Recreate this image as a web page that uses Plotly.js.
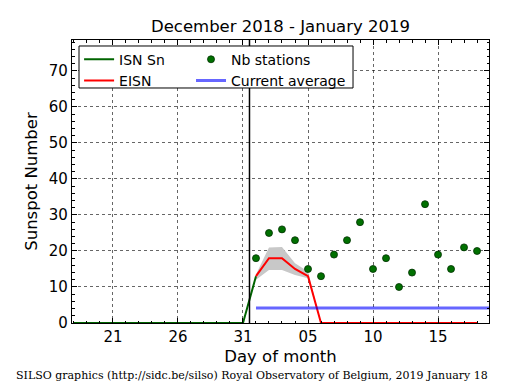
<!DOCTYPE html>
<html>
<head>
<meta charset="utf-8">
<script src="https://cdn.plot.ly/plotly-3.0.1.min.js"></script>
<style>html,body{margin:0;padding:0;background:#fff}#chart{width:515px;height:390px}</style>
</head>
<body>
<div id="chart"></div>
<script>
// ISN Sn (daily sunspot number, final values)
const isnDates = ['2018-12-18','2018-12-19','2018-12-20','2018-12-21','2018-12-22','2018-12-23','2018-12-24','2018-12-25','2018-12-26','2018-12-27','2018-12-28','2018-12-29','2018-12-30','2018-12-31','2019-01-01'];
const isnValues = [0,0,0,0,0,0,0,0,0,0,0,0,0,0,13];

// EISN (estimated international sunspot number)
const eisnDates = ['2019-01-01','2019-01-02','2019-01-03','2019-01-04','2019-01-05','2019-01-06','2019-01-07','2019-01-08','2019-01-09','2019-01-10','2019-01-11','2019-01-12','2019-01-13','2019-01-14','2019-01-15','2019-01-16','2019-01-17','2019-01-18'];
const eisnValues = [13,18,18,15,13,0,0,0,0,0,0,0,0,0,0,0,0,0];

// EISN uncertainty band
const bandDates = ['2019-01-01','2019-01-02','2019-01-03','2019-01-04','2019-01-05','2019-01-06'];
const bandLower = [12,14.7,14.7,13.3,12.4,0];
const bandUpper = [13.5,21,21.1,16.6,14.3,0];

// Number of stations
const stationDates = ['2019-01-01','2019-01-02','2019-01-03','2019-01-04','2019-01-05','2019-01-06','2019-01-07','2019-01-08','2019-01-09','2019-01-10','2019-01-11','2019-01-12','2019-01-13','2019-01-14','2019-01-15','2019-01-16','2019-01-17','2019-01-18'];
const stationValues = [18,25,26,23,15,13,19,23,28,15,18,10,14,33,19,15,21,20];

// Current average
const avgDates = ['2019-01-01','2019-01-19'];
const avgValues = [4.2,4.2];

// Marker line (current time)
const nowDate = '2018-12-31 12:00';

const xRange = ['2018-12-17 20:24','2019-01-18 22:05'];
const yRange = [0,78.6];

const font = 'DejaVu Sans, sans-serif';

const traces = [
  {x: bandDates, y: bandLower, mode:'lines', line:{width:0,color:'#c8c8c8'}, showlegend:false, hoverinfo:'skip'},
  {x: bandDates, y: bandUpper, mode:'lines', line:{width:0,color:'#c8c8c8'}, fill:'tonexty', fillcolor:'#c8c8c8', showlegend:false, hoverinfo:'skip'},
  {x: isnDates, y: isnValues, mode:'lines', name:'ISN Sn', line:{color:'#006400', width:2}, legend:'legend', legendrank:1},
  {x: eisnDates, y: eisnValues, mode:'lines', name:'EISN', line:{color:'#ff0000', width:2}, legend:'legend', legendrank:2},
  {x: avgDates, y: avgValues, mode:'lines', name:'Current average', line:{color:'rgba(0,0,255,0.6)', width:3}, legend:'legend2', legendrank:2},
  {x: stationDates, y: stationValues, mode:'markers', name:'Nb stations', marker:{color:'#007000', size:7, line:{color:'#003000', width:0.8}}, legend:'legend2', legendrank:1}
];

const legendCommon = {
  orientation:'v', yanchor:'top', xanchor:'left',
  bgcolor:'rgba(0,0,0,0)', borderwidth:0, traceorder:'normal', tracegroupgap:0, itemwidth:30,
  font:{family:font, size:14, color:'#000'}
};

const layout = {
  width:515, height:390,
  margin:{l:72, r:26, t:40, b:67},
  paper_bgcolor:'#fff', plot_bgcolor:'#fff',
  font:{family:font, color:'#000', size:14},
  title:{text:'December 2018 - January 2019', font:{family:font, size:16.5, color:'#000'}, x:0.5, xref:'paper', y:0.932, yanchor:'middle'},
  xaxis:{
    type:'date', range:xRange, tick0:'2018-12-21', dtick:5*86400000, tickformat:'%d',
    ticks:'inside', ticklen:5, tickwidth:1, tickcolor:'#000', mirror:'allticks',
    showline:true, linecolor:'#000', linewidth:1.2,
    showgrid:true, gridcolor:'#000', griddash:'dot', gridwidth:0.6,
    zeroline:false,
    tickfont:{family:font, size:15, color:'#000'},
    minor:{dtick:86400000, ticks:'inside', ticklen:2.5, tickcolor:'#000', showgrid:false},
    title:{text:'Day of month', font:{family:font, size:16.5, color:'#000'}, standoff:5}
  },
  yaxis:{
    range:yRange, tick0:0, dtick:10,
    ticks:'inside', ticklen:5, tickwidth:1, tickcolor:'#000', mirror:'allticks',
    showline:true, linecolor:'#000', linewidth:1.2,
    showgrid:true, gridcolor:'#000', griddash:'dot', gridwidth:0.6,
    zeroline:false,
    tickfont:{family:font, size:15, color:'#000'},
    minor:{dtick:2, ticks:'inside', ticklen:2.5, tickcolor:'#000', showgrid:false},
    title:{text:'Sunspot Number', font:{family:font, size:16.5, color:'#000'}, standoff:7}
  },
  legend: Object.assign({}, legendCommon, {x:0.017, y:0.987}),
  legend2: Object.assign({}, legendCommon, {x:0.2854, y:0.987}),
  shapes:[
    {type:'line', xref:'x', yref:'paper', x0:nowDate, x1:nowDate, y0:0, y1:1, layer:'above', line:{color:'#000', width:1.5}},
    {type:'rect', xref:'paper', yref:'paper', x0:0.0168, x1:0.6739, y0:0.8304, y1:0.9788, fillcolor:'#fff', line:{color:'#000', width:1}, layer:'above'}
  ],
  annotations:[
    {text:'SILSO graphics (http://sidc.be/silso) Royal Observatory of Belgium, 2019 January 18', xref:'paper', yref:'paper', x:-0.14, y:-0.185, xanchor:'left', yanchor:'middle', showarrow:false, font:{family:'DejaVu Serif, serif', size:11, color:'#000'}}
  ]
};

Plotly.newPlot('chart', traces, layout, {displayModeBar:false, staticPlot:true});
</script>
</body>
</html>
